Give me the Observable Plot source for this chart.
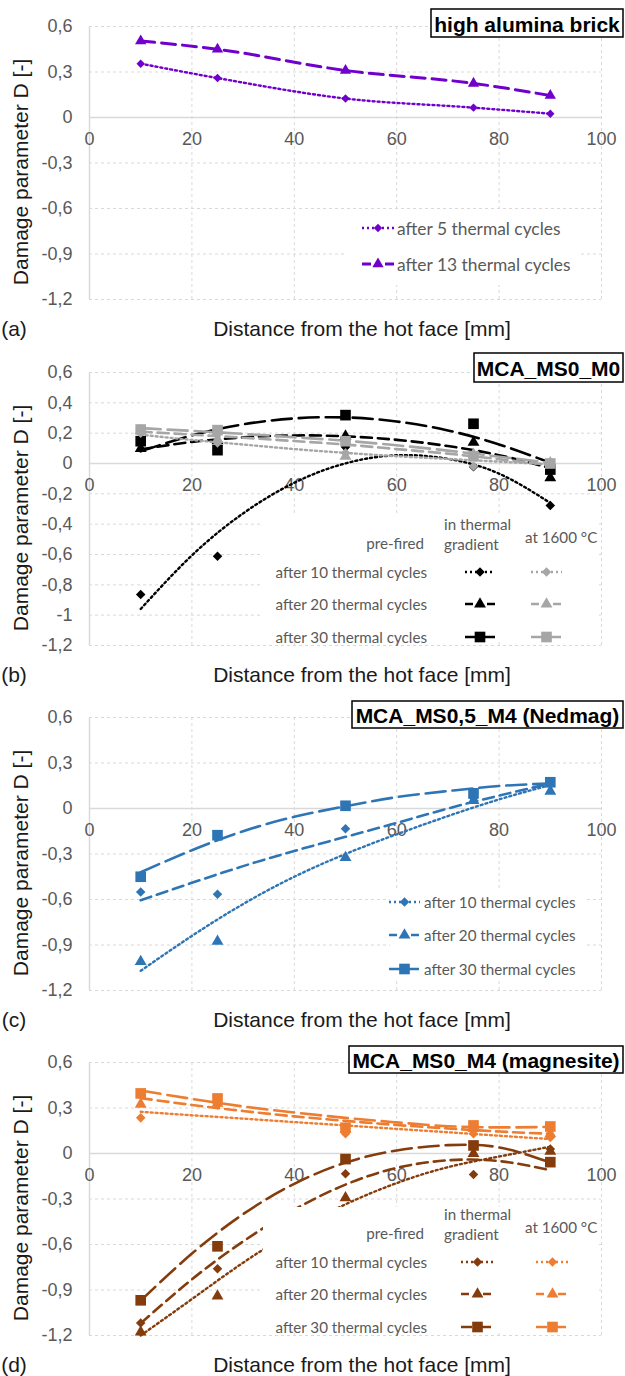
<!DOCTYPE html>
<html><head><meta charset="utf-8">
<script src="https://cdn.jsdelivr.net/npm/d3@7"></script>
<script src="https://cdn.jsdelivr.net/npm/@observablehq/plot@0.6"></script>
<style>
html,body{margin:0;padding:0;background:#fff;}
#wrap{position:relative;width:625px;height:1376px;overflow:hidden;background:#fff;}
</style></head><body><div id="wrap"></div>
<script>
// ---------------- data ----------------
const xPoints = [10, 25, 50, 75, 90];
const trendX = [10, 20, 30, 40, 50, 60, 70, 80, 90];
const xTicks = [0, 20, 40, 60, 80, 100];
const yTicksA = [0.6, 0.3, 0, -0.3, -0.6, -0.9, -1.2];
const yTicksB = [0.6, 0.4, 0.2, 0, -0.2, -0.4, -0.6, -0.8, -1, -1.2];

// (a) high alumina brick
const a5cycles = [0.355, 0.26, 0.125, 0.065, 0.025];
const a13cycles = [0.505, 0.45, 0.31, 0.225, 0.145];

// (b) MCA_MS0_M0 : in thermal gradient (black) / at 1600 °C (grey)
const bGrad10 = [-0.864, -0.611, 0.108, -0.022, -0.277];
const bGrad20 = [0.099, 0.15, 0.18, 0.14, -0.095];
const bGrad30 = [0.147, 0.088, 0.319, 0.262, -0.04];
const bHot10 = [0.2, 0.136, 0.07, -0.018, 0.0];
const bHot20 = [0.217, 0.158, 0.048, 0.06, 0.005];
const bHot30 = [0.224, 0.22, 0.147, 0.048, 0.0];
const bTrendGrad10 = [-0.959, -0.606, -0.329, -0.127, 0.001, 0.054, 0.031, -0.067, -0.26];
const bTrendGrad20 = [0.093, 0.142, 0.172, 0.185, 0.179, 0.156, 0.115, 0.055, -0.03];
const bTrendGrad30 = [0.08, 0.185, 0.258, 0.297, 0.304, 0.277, 0.218, 0.126, 0.005];
const bTrendHot10 = [0.19, 0.155, 0.125, 0.095, 0.07, 0.048, 0.03, 0.012, -0.005];
const bTrendHot20 = [0.21, 0.19, 0.17, 0.148, 0.125, 0.095, 0.065, 0.028, -0.01];
const bTrendHot30 = [0.233, 0.215, 0.195, 0.173, 0.15, 0.12, 0.085, 0.045, 0.005];

// (c) MCA_MS0,5_M4 (Nedmag)
const c10 = [-0.55, -0.565, -0.134, 0.07, 0.16];
const c20 = [-1.01, -0.876, -0.323, 0.053, 0.114];
const c30 = [-0.45, -0.176, 0.018, 0.10, 0.173];
const cTrend10 = [-1.07, -0.84, -0.63, -0.45, -0.30, -0.17, -0.05, 0.06, 0.155];
const cTrend20 = [-0.605, -0.49, -0.38, -0.28, -0.187, -0.095, 0.0, 0.085, 0.165];
const cTrend30 = [-0.42, -0.275, -0.15, -0.055, 0.015, 0.075, 0.115, 0.148, 0.165];

// (d) MCA_MS0_M4 (magnesite) : in thermal gradient (brown) / at 1600 °C (orange)
const dGrad10 = [-1.118, -0.76, -0.134, -0.138, 0.03];
const dGrad20 = [-1.177, -0.94, -0.293, 0.0, 0.015];
const dGrad30 = [-0.968, -0.612, -0.037, 0.053, -0.057];
const dHot10 = [0.235, 0.32, 0.13, 0.13, 0.105];
const dHot20 = [0.325, 0.33, 0.16, 0.165, 0.13];
const dHot30 = [0.396, 0.363, 0.17, 0.185, 0.178];
const dTrendGrad10 = [-1.2, -0.96, -0.72, -0.51, -0.335, -0.195, -0.09, -0.02, 0.045];
const dTrendGrad20 = [-1.12, -0.83, -0.58, -0.37, -0.205, -0.095, -0.045, -0.05, -0.11];
const dTrendGrad30 = [-0.97, -0.66, -0.40, -0.20, -0.06, 0.02, 0.055, 0.04, -0.06];
const dTrendHot10 = [0.275, 0.252, 0.23, 0.207, 0.185, 0.162, 0.14, 0.117, 0.095];
const dTrendHot20 = [0.365, 0.32, 0.28, 0.245, 0.215, 0.188, 0.165, 0.145, 0.13];
const dTrendHot30 = [0.415, 0.36, 0.31, 0.27, 0.235, 0.205, 0.18, 0.172, 0.175];

const rowLabels = ["after 10 thermal cycles", "after 20 thermal cycles", "after 30 thermal cycles"];
const aLabels = ["after 5 thermal cycles", "after 13 thermal cycles"];

// ---------------- styles ----------------
const PURPLE = "#7000CC", BLACK = "#000000", GREY = "#A6A6A6", BLUE = "#2E75B6", BROWN = "#843C0C", ORANGE = "#ED7D31";
const GRID = "#D9D9D9", TICK = "#595959", TXT = "#1A1A1A";
const AX_FONT = "'Liberation Sans', Arial, sans-serif";
const LEG_FONT = "Lato, 'Open Sans', sans-serif";
const STY = {
  dot: {dash: "2,3", width: 2.4, leg: "2,3"},
  dash: {dash: "11,6", width: 2.6, leg: "8,14,8"},
  long: {dash: "20,7", width: 2.6, leg: "11,8,11"},
  dashA: {dash: "14,7", width: 3, leg: "9,14,9"}
};
const SYM = {
  diamond: {plot: "diamond2", d3: d3.symbolDiamond2, r: 4.3},
  triangle: {plot: "triangle", d3: d3.symbolTriangle, r: 4.4},
  square: {plot: "square", d3: d3.symbolSquare, r: 6}
};

const ctx = document.createElement("canvas").getContext("2d");
function fitSize(text, family, target) {
  ctx.font = `100px ${family}`;
  return 100 * target / ctx.measureText(text).width;
}
const legSizeA = fitSize(aLabels[0], LEG_FONT, 164);
const legSize = fitSize(rowLabels[0], LEG_FONT, 152);

const pts = (xs, ys) => xs.map((x, i) => ({x, y: ys[i]}));
const fmt = d => (d === 0 ? "0" : String(d).replace(".", ","));

const H = 345;

function buildPanel(cfg) {
  const marks = [];
  marks.push(Plot.ruleY(cfg.yTicks.filter(v => v !== 0), {y: d => d, stroke: GRID, strokeDasharray: "3,3", strokeWidth: 1}));
  marks.push(Plot.ruleX(xTicks.filter(v => v !== 0), {x: d => d, stroke: GRID, strokeDasharray: "3,3", strokeWidth: 1}));
  marks.push(Plot.ruleX([0], {x: d => d, stroke: GRID, strokeWidth: 1.5}));
  marks.push(Plot.ruleY([0], {y: d => d, stroke: GRID, strokeWidth: 1.5}));
  marks.push(Plot.text(cfg.yTicks, {y: d => d, frameAnchor: "left", dx: -17, textAnchor: "end", text: fmt, fill: TICK, fontSize: 18}));
  marks.push(Plot.text(xTicks, {x: d => d, y: 0, dy: 22, text: d => String(d), fill: TICK, fontSize: 18}));
  for (const s of cfg.series) {
    if (s.trend) {
      const st = STY[s.style];
      marks.push(Plot.line(pts(s.trendX || trendX, s.trend), {x: "x", y: "y", stroke: s.color, strokeWidth: st.width, strokeDasharray: st.dash, curve: s.curve || "natural"}));
    }
  }
  for (const s of cfg.series) {
    const sy = SYM[s.symbol];
    marks.push(Plot.dot(pts(xPoints, s.values), {x: "x", y: "y", symbol: sy.plot, r: s.r || sy.r, fill: s.color, stroke: "none"}));
  }
  const svg = Plot.plot({
    width: 625, height: H,
    marginLeft: 89, marginRight: 24, marginTop: 26, marginBottom: 46,
    x: {domain: [0, 100], axis: null},
    y: {domain: [-1.2, 0.6], axis: null},
    style: {background: "none", overflow: "visible", fontFamily: AX_FONT, fontSize: "18px"},
    marks
  });
  svg.style.position = "absolute";
  svg.style.left = "0px";
  svg.style.top = cfg.top + "px";
  document.getElementById("wrap").appendChild(svg);

  const g = d3.select(svg).append("g");
  // axis titles
  g.append("text").attr("transform", "translate(20,172) rotate(-90)")
    .attr("text-anchor", "middle").attr("dominant-baseline", "central")
    .attr("font-family", AX_FONT).attr("font-size", 21).attr("fill", TXT)
    .text("Damage parameter D [-]");
  g.append("text").attr("x", 362).attr("y", 328)
    .attr("text-anchor", "middle").attr("dominant-baseline", "central")
    .attr("font-family", AX_FONT).attr("font-size", 21).attr("fill", TXT)
    .text("Distance from the hot face [mm]");
  g.append("text").attr("x", 14).attr("y", 328)
    .attr("dominant-baseline", "central")
    .attr("font-family", AX_FONT).attr("font-size", 21).attr("fill", TXT)
    .text(cfg.letter);
  // title box
  const b = cfg.titleBox;
  g.append("rect").attr("x", b[0]).attr("y", b[1]).attr("width", b[2]).attr("height", b[3])
    .attr("fill", "#fff").attr("stroke", "#000").attr("stroke-width", 1.5);
  g.append("text").attr("x", b[0] + b[2] / 2).attr("y", b[1] + b[3] / 2 + 1)
    .attr("text-anchor", "middle").attr("dominant-baseline", "central")
    .attr("font-family", AX_FONT).attr("font-weight", "bold").attr("font-size", 21).attr("fill", "#000")
    .text(cfg.title);
  // legend background
  const lb = cfg.legendBox;
  g.append("rect").attr("x", lb[0]).attr("y", lb[1]).attr("width", lb[2] - lb[0]).attr("height", lb[3] - lb[1]).attr("fill", "#fff");
  cfg.legend(g);
}

function sample(g, x1, x2, y, color, styleKey, symKey, r) {
  const st = STY[styleKey], sy = SYM[symKey];
  g.append("line").attr("x1", x1).attr("x2", x2).attr("y1", y).attr("y2", y)
    .attr("stroke", color).attr("stroke-width", st.width).attr("stroke-dasharray", st.leg);
  const rr = r || sy.r;
  g.append("path").attr("d", d3.symbol(sy.d3, Math.PI * rr * rr)())
    .attr("transform", `translate(${(x1 + x2) / 2},${y})`).attr("fill", color);
}
function legText(g, x, y, t, anchor, size) {
  g.append("text").attr("x", x).attr("y", y).attr("text-anchor", anchor || "start")
    .attr("dominant-baseline", "central").attr("font-family", LEG_FONT)
    .attr("font-size", size || legSize).attr("fill", TICK).text(t);
}
function twoColLegend(g, c1, c2, colA, colB) {
  legText(g, 424, 197, "pre-fired", "end");
  legText(g, 444, 178, "in thermal");
  legText(g, 444, 198, "gradient");
  legText(g, 525, 191, "at 1600 °C");
  const styles = ["dot", "dash", "long"], syms = ["diamond", "triangle", "square"], ys = [226, 258, 291];
  ys.forEach((y, i) => {
    legText(g, 427, y, rowLabels[i], "end");
    sample(g, c1[0], c1[1], y, colA, styles[i], syms[i]);
    sample(g, c2[0], c2[1], y, colB, styles[i], syms[i]);
  });
}

// ---------------- panels ----------------
buildPanel({
  top: 0, yTicks: yTicksA, letter: "(a)", title: "high alumina brick", titleBox: [431, 9, 192, 28],
  series: [
    {values: a5cycles, trend: a5cycles, trendX: xPoints, curve: "monotone-x", color: PURPLE, style: "dot", symbol: "diamond", r: 3.8},
    {values: a13cycles, trend: a13cycles, trendX: xPoints, curve: "monotone-x", color: PURPLE, style: "dashA", symbol: "triangle", r: 4.2}
  ],
  legendBox: [347, 210, 581, 285],
  legend: g => {
    sample(g, 362, 394, 228, PURPLE, "dot", "diamond", 3.8);
    legText(g, 397, 228, aLabels[0], "start", legSizeA);
    sample(g, 362, 394, 264, PURPLE, "dashA", "triangle", 4.2);
    legText(g, 397, 264, aLabels[1], "start", legSizeA);
  }
});

buildPanel({
  top: 346, yTicks: yTicksB, letter: "(b)", title: "MCA_MS0_M0", titleBox: [474, 7, 149, 29],
  series: [
    {values: bGrad10, trend: bTrendGrad10, color: BLACK, style: "dot", symbol: "diamond"},
    {values: bGrad20, trend: bTrendGrad20, color: BLACK, style: "dash", symbol: "triangle"},
    {values: bGrad30, trend: bTrendGrad30, color: BLACK, style: "long", symbol: "square"},
    {values: bHot10, trend: bTrendHot10, color: GREY, style: "dot", symbol: "diamond"},
    {values: bHot20, trend: bTrendHot20, color: GREY, style: "dash", symbol: "triangle"},
    {values: bHot30, trend: bTrendHot30, color: GREY, style: "long", symbol: "square"}
  ],
  legendBox: [262, 170, 596, 296],
  legend: g => twoColLegend(g, [465, 495], [531, 562], BLACK, GREY)
});

buildPanel({
  top: 691, yTicks: yTicksA, letter: "(c)", title: "MCA_MS0,5_M4 (Nedmag)", titleBox: [352, 10, 271, 27],
  series: [
    {values: c10, trend: cTrend10, color: BLUE, style: "dot", symbol: "diamond"},
    {values: c20, trend: cTrend20, color: BLUE, style: "dash", symbol: "triangle"},
    {values: c30, trend: cTrend30, color: BLUE, style: "long", symbol: "square"}
  ],
  legendBox: [390, 197, 585, 290],
  legend: g => {
    const styles = ["dot", "dash", "long"], syms = ["diamond", "triangle", "square"], ys = [211, 244, 278];
    ys.forEach((y, i) => {
      sample(g, 389, 420, y, BLUE, styles[i], syms[i]);
      legText(g, 424, y, rowLabels[i], "start");
    });
  }
});

buildPanel({
  top: 1036, yTicks: yTicksA, letter: "(d)", title: "MCA_MS0_M4 (magnesite)", titleBox: [349, 10, 274, 27],
  series: [
    {values: dGrad10, trend: dTrendGrad10, color: BROWN, style: "dot", symbol: "diamond"},
    {values: dGrad20, trend: dTrendGrad20, color: BROWN, style: "dash", symbol: "triangle"},
    {values: dGrad30, trend: dTrendGrad30, color: BROWN, style: "long", symbol: "square"},
    {values: dHot10, trend: dTrendHot10, color: ORANGE, style: "dot", symbol: "diamond"},
    {values: dHot20, trend: dTrendHot20, color: ORANGE, style: "dash", symbol: "triangle"},
    {values: dHot30, trend: dTrendHot30, color: ORANGE, style: "long", symbol: "square"}
  ],
  legendBox: [263, 171, 596, 297],
  legend: g => twoColLegend(g, [461, 494], [536, 569], BROWN, ORANGE)
});
</script></body></html>
